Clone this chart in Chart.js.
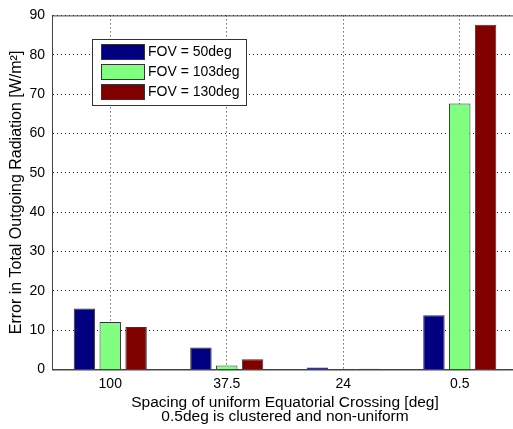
<!DOCTYPE html>
<html>
<head>
<meta charset="utf-8">
<script src="https://cdn.jsdelivr.net/npm/chart.js@4.4.0/dist/chart.umd.min.js"></script>
<style>
  html, body { margin: 0; padding: 0; background: #fff; overflow: hidden; }
  #wrap { width: 513px; height: 429px; overflow: hidden; }
</style>
</head>
<body>
<div id="wrap"><canvas id="c" width="519" height="429"></canvas></div>
<script>
const categories = ["100", "37.5", "24", "0.5"];
const seriesNames = ["FOV = 50deg", "FOV = 103deg", "FOV = 130deg"];
const fov50 = [15.5, 5.6, 0.5, 13.8];
const fov103 = [12.1, 1.0, 0.2, 67.6];
const fov130 = [10.8, 2.6, 0.2, 87.6];
const yTicks = [0, 10, 20, 30, 40, 50, 60, 70, 80, 90];
const colors = ["#000080", "#80ff80", "#800000"];

const FONT = "'Liberation Sans', Arial, sans-serif";

// box around plot + legend drawn like the matlab one
const boxPlugin = {
    id: "box",
    afterDraw(chart) {
        const ctx = chart.ctx;
        const a = chart.chartArea;
        ctx.save();
        ctx.strokeStyle = "#444";
        ctx.lineWidth = 1;
        ctx.strokeRect(a.left + 0.5, a.top + 0.5, a.right - a.left - 1, a.bottom - a.top);

        // legend
        const lx = 92, ly = 39, lw = 154, lh = 66;
        ctx.fillStyle = "#fff";
        ctx.fillRect(lx, ly, lw, lh);
        ctx.strokeStyle = "#333";
        ctx.strokeRect(lx + 0.5, ly + 0.5, lw, lh);
        ctx.font = "14px " + FONT;
        ctx.textBaseline = "middle";
        chart.data.datasets.forEach((ds, i) => {
            const y = ly + 5 + i * 20;
            ctx.fillStyle = ds.backgroundColor;
            ctx.fillRect(lx + 9, y, 43, 15);
            ctx.strokeStyle = "#333";
            ctx.strokeRect(lx + 9.5, y + 0.5, 43, 15);
            ctx.fillStyle = "#000";
            ctx.fillText(ds.label, lx + 56, y + 8.5);
        });
        ctx.restore();
    }
};

const datasets = [fov50, fov103, fov130].map((vals, i) => ({
    label: seriesNames[i],
    data: vals,
    backgroundColor: colors[i],
    borderColor: "#333",
    borderWidth: 1,
    barPercentage: 0.83,
    categoryPercentage: 0.665
}));

new Chart(document.getElementById("c").getContext("2d"), {
    type: "bar",
    data: { labels: categories, datasets: datasets },
    plugins: [boxPlugin],
    options: {
        responsive: false,
        animation: false,
        layout: { padding: { top: 15, right: 1, left: 0, bottom: 0 } },
        plugins: { legend: { display: false }, tooltip: { enabled: false } },
        scales: {
            x: {
                grid: {
                    offset: false,
                    color: "#222",
                    lineWidth: 1,
                    drawTicks: false
                },
                border: { display: true, color: "#444", dash: [1, 3] },
                ticks: { color: "#000", font: { size: 14, family: FONT }, padding: 6 },
                title: {
                    display: true,
                    text: ["Spacing of uniform Equatorial Crossing [deg]", "0.5deg is clustered and non-uniform"],
                    color: "#000",
                    font: { size: 15.5, family: FONT, lineHeight: 0.94 },
                    padding: { top: 0, bottom: 4.5 }
                },
                afterFit(s) { s.height = 59.5; }
            },
            y: {
                min: 0,
                max: 90,
                afterBuildTicks(s) { s.ticks = yTicks.map(v => ({ value: v })); },
                grid: {
                    color: "#222",
                    drawTicks: false
                },
                border: { display: true, color: "#444", dash: [1, 3] },
                ticks: { color: "#000", font: { size: 14, family: FONT }, padding: 7 },
                title: {
                    display: true,
                    text: "Error in Total Outgoing Radiation [W/m\u00b2]",
                    color: "#000",
                    font: { size: 16, family: FONT },
                    padding: { bottom: 0, top: 7 }
                },
                afterFit(s) { s.width = 52; }
            }
        }
    }
});
</script>
</body>
</html>
